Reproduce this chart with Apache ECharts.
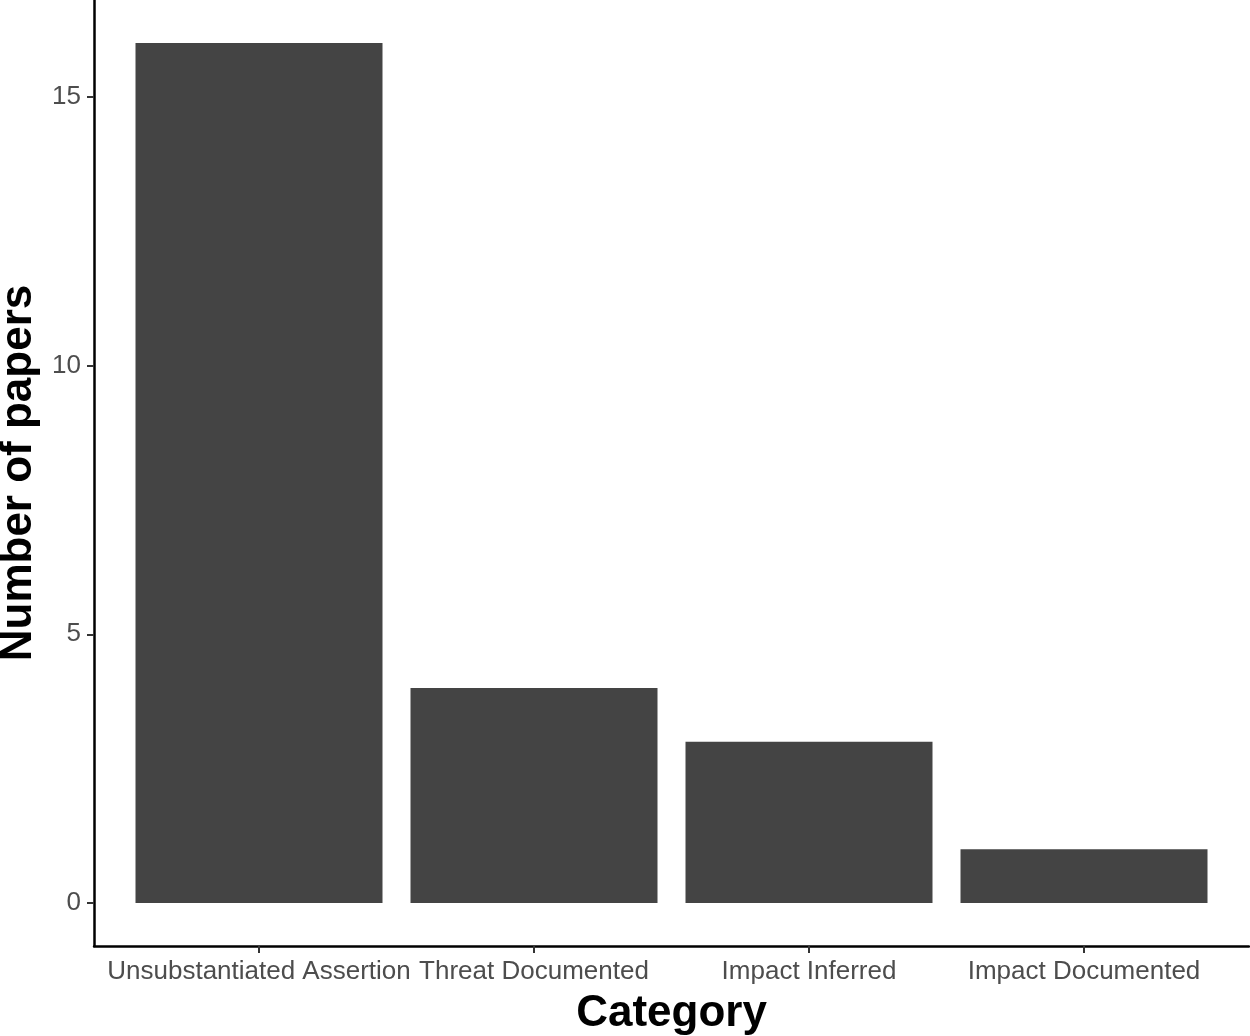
<!DOCTYPE html>
<html>
<head>
<meta charset="utf-8">
<script src="https://cdn.jsdelivr.net/npm/echarts@6/dist/echarts.min.js"></script>
<style>html,body{margin:0;padding:0;background:#fff}#c{width:1250px;height:1036px}</style>
</head>
<body>
<div id="c"></div>
<script>
const categories = ["Unsubstantiated Assertion", "Threat Documented", "Impact Inferred", "Impact Documented"];
const counts = [16, 4, 3, 1];
const yTicks = [0, 5, 10, 15];

const positions = categories.map((c, i) => i + 1);
const chart = echarts.init(document.getElementById('c'), null, {renderer: 'canvas'});
chart.setOption({
  animation: false,
  backgroundColor: '#ffffff',
  grid: {left: 94, right: 1, top: 0, bottom: 90, containLabel: false, outerBoundsMode: 'none'},
  xAxis: {
    type: 'value',
    min: 0.4, max: 4.6,
    name: 'Category',
    nameLocation: 'middle',
    nameGap: 46,
    nameTextStyle: {fontFamily: 'Liberation Sans', fontWeight: 'bold', fontSize: 44, color: '#000'},
    axisLine: {show: true, onZero: false, lineStyle: {color: '#000', width: 2.5}},
    axisTick: {show: true, length: 7, customValues: positions, lineStyle: {color: '#333', width: 2}},
    axisLabel: {customValues: positions, margin: 13, fontFamily: 'Liberation Sans', fontSize: 26, color: '#4d4d4d',
      formatter: v => categories[Math.round(v) - 1] || ''},
    splitLine: {show: false}
  },
  yAxis: {
    type: 'value',
    min: -0.8, max: 16.8,
    name: 'Number of papers',
    nameLocation: 'middle',
    nameGap: 51,
    nameTextStyle: {fontFamily: 'Liberation Sans', fontWeight: 'bold', fontSize: 44, color: '#000'},
    axisLine: {show: true, onZero: false, lineStyle: {color: '#000', width: 2.5}},
    axisTick: {show: true, length: 7, customValues: yTicks, lineStyle: {color: '#333', width: 2}},
    axisLabel: {customValues: yTicks, margin: 13, fontFamily: 'Liberation Sans', fontSize: 26, color: '#4d4d4d'},
    splitLine: {show: false}
  },
  series: [{
    type: 'bar',
    barWidth: 247,
    itemStyle: {color: '#444444'},
    data: counts.map((v, i) => [positions[i], v])
  }]
});
</script>
</body>
</html>
